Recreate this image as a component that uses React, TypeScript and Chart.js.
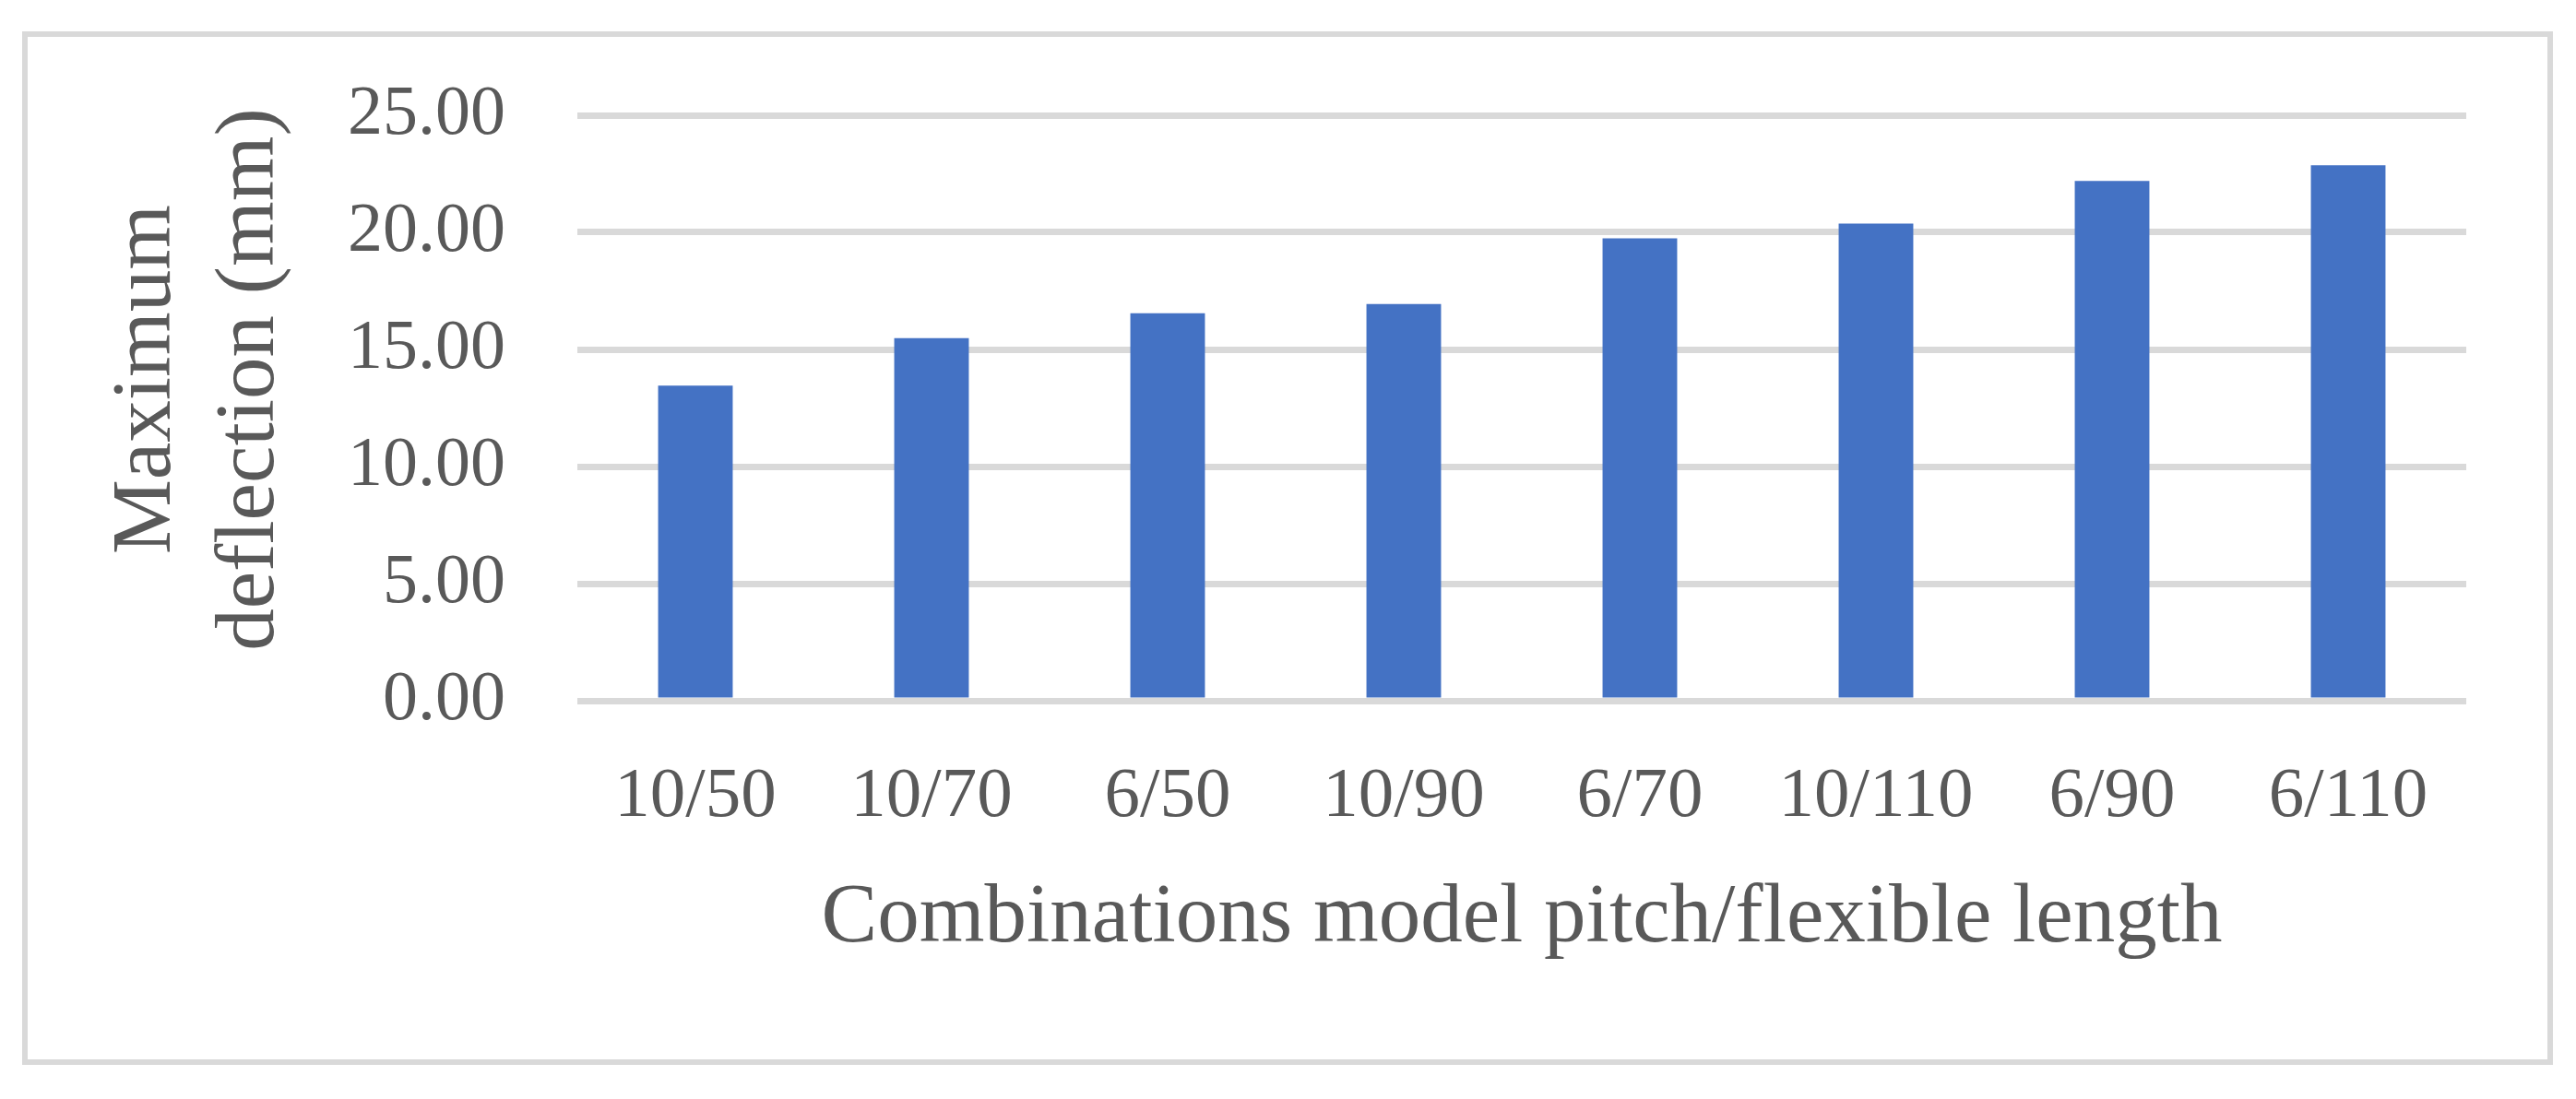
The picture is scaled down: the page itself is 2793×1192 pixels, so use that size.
import { useEffect, useRef } from "react";
import { Chart, registerables } from "chart.js";

Chart.register(...registerables);

const categories = ["10/50", "10/70", "6/50", "10/90", "6/70", "10/110", "6/90", "6/110"];
const deflectionValues = [13.45, 15.48, 16.55, 16.94, 19.74, 20.37, 22.19, 22.86];
const yAxisMin = 0;
const yAxisMax = 25;
const yAxisStep = 5;
const xAxisTitle = "Combinations model pitch/flexible length";
const yAxisTitleLines = ["Maximum", "deflection (mm)"];

const FONT = "'Liberation Serif', 'Times New Roman', serif";
const TEXT = "#595959";
const GRID = "#d9d9d9";
const BAR = "#4472c4";

const CANVAS_W = 2732;
const CANVAS_H = 1109;

const yTitlePlugin = {
  id: "yTitlePlugin",
  afterDraw(chart: any) {
    const { ctx, chartArea } = chart;
    const cy = (chartArea.top + chartArea.bottom) / 2 - 31;
    const xs = [chartArea.left - 442, chartArea.left - 330];
    ctx.save();
    ctx.fillStyle = TEXT;
    ctx.font = `91px ${FONT}`;
    ctx.textAlign = "center";
    ctx.textBaseline = "alphabetic";
    yAxisTitleLines.forEach((line, i) => {
      ctx.save();
      ctx.translate(xs[i], cy);
      ctx.rotate(-Math.PI / 2);
      ctx.fillText(line, 0, 0);
      ctx.restore();
    });
    ctx.restore();
  },
};

export default function App() {
  const ref = useRef<HTMLCanvasElement | null>(null);

  useEffect(() => {
    if (!ref.current) return;
    const chart = new Chart(ref.current, {
      type: "bar",
      data: {
        labels: categories,
        datasets: [
          {
            label: "Maximum deflection (mm)",
            data: deflectionValues,
            backgroundColor: BAR,
            borderWidth: 0,
            barPercentage: 0.316,
            categoryPercentage: 1,
          },
        ],
      },
      options: {
        responsive: false,
        maintainAspectRatio: false,
        animation: false,
        devicePixelRatio: 1,
        layout: { padding: { left: 0, right: 88, top: 85, bottom: 0 } },
        plugins: {
          legend: { display: false },
          tooltip: { enabled: false },
          title: { display: false },
        },
        scales: {
          x: {
            grid: { display: false, drawTicks: false },
            border: { display: false },
            ticks: {
              color: TEXT,
              font: { family: FONT, size: 77 },
              padding: 59,
              maxRotation: 0,
              autoSkip: false,
            },
            title: {
              display: true,
              text: xAxisTitle,
              color: TEXT,
              font: { family: FONT, size: 91 },
              padding: { top: 0, bottom: 97 },
            },
            afterFit: (scale: any) => {
              scale.height = CANVAS_H - 720;
              scale.paddingLeft = 0;
              scale.paddingRight = 0;
            },
          },
          y: {
            min: yAxisMin,
            max: yAxisMax,
            grid: { color: GRID, lineWidth: 7, drawTicks: false },
            border: { display: false },
            ticks: {
              stepSize: yAxisStep,
              color: TEXT,
              font: { family: FONT, size: 76 },
              padding: 78,
              callback: (v: any) => Number(v).toFixed(2),
            },
            afterFit: (scale: any) => {
              scale.width = 596;
              scale.paddingTop = 0;
              scale.paddingBottom = 0;
            },
          },
        },
      },
      plugins: [yTitlePlugin],
    });
    return () => chart.destroy();
  }, []);

  return (
    <div style={{ position: "relative", width: 2777, height: 1176 }}>
      <div
        style={{
          position: "absolute",
          left: 16,
          top: 26,
          width: 2744,
          height: 1121,
          border: `6px solid ${GRID}`,
          boxSizing: "border-box",
          background: "#fff",
        }}
      >
        <canvas
          ref={ref}
          width={CANVAS_W}
          height={CANVAS_H}
          style={{ display: "block", width: CANVAS_W, height: CANVAS_H }}
        />
      </div>
    </div>
  );
}
